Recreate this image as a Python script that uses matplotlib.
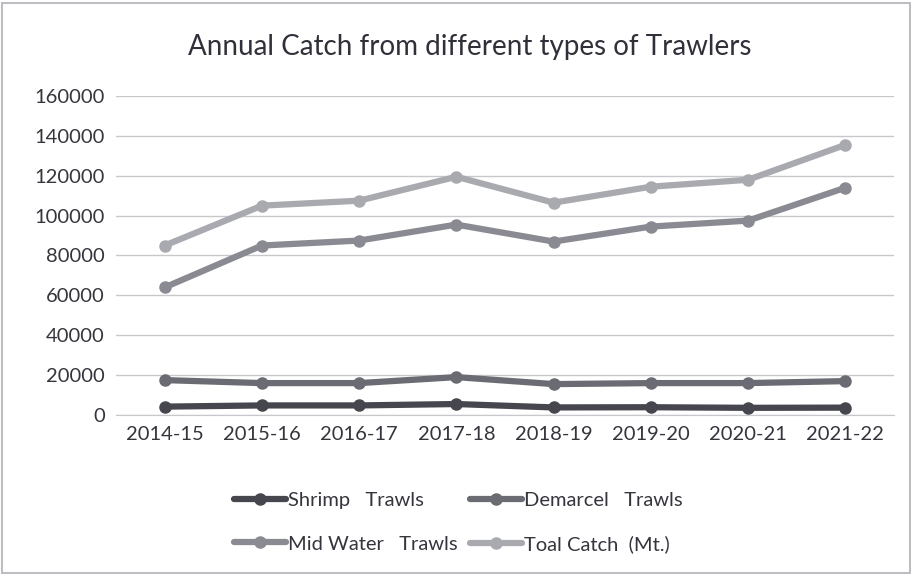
import numpy as np
import matplotlib
matplotlib.use("Agg")
import matplotlib.pyplot as plt

years = ["2014-15", "2015-16", "2016-17", "2017-18", "2018-19", "2019-20", "2020-21", "2021-22"]
shrimp = [4200, 4800, 4800, 5500, 3800, 3900, 3600, 3700]
demarcel = [17500, 16000, 16000, 19000, 15500, 16000, 16000, 17000]
mid_water = [64000, 85000, 87500, 95500, 87000, 94500, 97500, 114000]
total = [85000, 105000, 107500, 119500, 106500, 114500, 118000, 135500]

labels = ["Shrimp   Trawls", "Demarcel   Trawls", "Mid Water   Trawls", "Toal Catch  (Mt.)"]
colors = ["#46464f", "#6b6b73", "#8a8a92", "#a9a9b0"]

plt.rcParams['font.family'] = ['Lato', 'DejaVu Sans']

fig = plt.figure(figsize=(9.12, 5.76), dpi=100)
ax = fig.add_axes([116 / 912, 1 - 415 / 576, (894 - 116) / 912, (415 - 96) / 576])

x = np.arange(len(years))
lines = []
for series, lab, col in zip([shrimp, demarcel, mid_water, total], labels, colors):
    ln, = ax.plot(x, series, color=col, lw=4.5, marker='o', ms=8, label=lab,
                  solid_capstyle='round')
    lines.append(ln)

ax.set_xlim(-0.5, len(years) - 0.5)
ax.set_ylim(0, 160000)
ax.set_yticks(np.arange(0, 160001, 20000))
ax.set_xticks(x)
ax.set_xticklabels(years)
ax.tick_params(axis='both', length=0, labelsize=14.5, colors='#35353d', pad=8)
ax.yaxis.grid(True, color='#c8c8cc', lw=1)
ax.set_axisbelow(True)
for s in ['top', 'right', 'left']:
    ax.spines[s].set_visible(False)
ax.spines['bottom'].set_color('#c8c8cc')

fig.text(0.515, 0.918, "Annual Catch from different types of Trawlers",
         ha='center', va='center', fontsize=20, color='#30303a')

# matplotlib fills legend columns first; reorder so rows read like the original
order = [0, 2, 1, 3]
ax.legend([lines[i] for i in order], [labels[i] for i in order],
          loc='upper center', bbox_to_anchor=(0.44, -0.185), ncol=2,
          frameon=False, fontsize=14.5, handlelength=2.6, columnspacing=0.6,
          handletextpad=0.1, labelspacing=1.3, labelcolor='#35353d')

# light frame round the chart
fig.patches.append(plt.Rectangle((0.002, 0.005), 0.996, 0.99, transform=fig.transFigure,
                                 fill=False, edgecolor='#bdbdc2', lw=1.5))

fig.savefig("out.png", dpi=100)
